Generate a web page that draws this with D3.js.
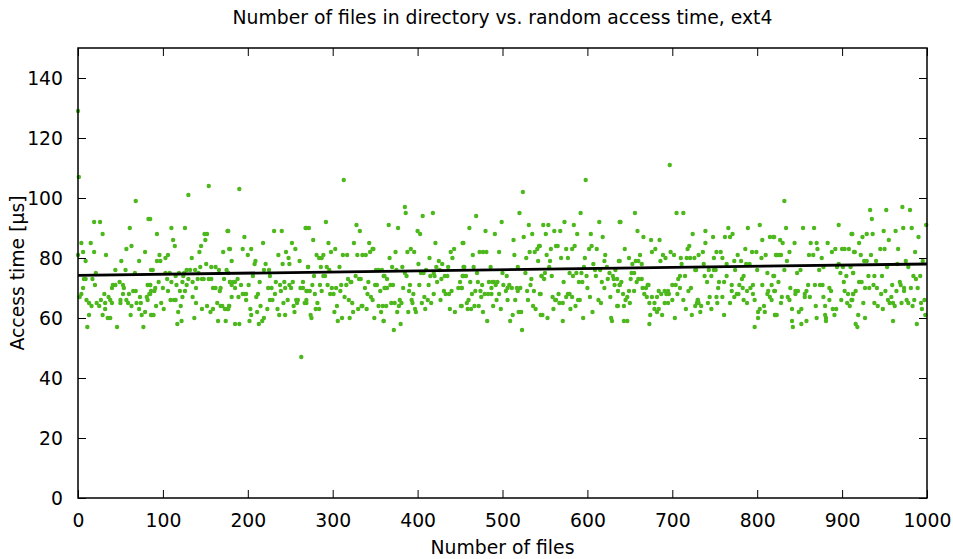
<!DOCTYPE html>
<html><head><meta charset="utf-8">
<script src="https://cdn.jsdelivr.net/npm/d3@7"></script>
<style>
html,body{margin:0;padding:0;background:#fff;}
text{font-family:"DejaVu Sans",sans-serif;fill:#000;}
</style></head>
<body><svg id="chart" width="953" height="559"></svg>
<script>
// ---- data ----
const chartTitle = "Number of files in directory vs. random access time, ext4";
const xLabel = "Number of files";
const yLabel = "Access time [µs]";
const xTicks = [0,100,200,300,400,500,600,700,800,900,1000];
const yTicks = [0,20,40,60,80,100,120,140];
const xDomain = [0,1000];
const yDomain = [0,150];
// fitted trend line (end points)
const fitX = [0, 1000];
const fitY = [74.2, 78.0];
// [number of files, access time µs]
const samples = [
[0,129],[1,107],[68,99],[19,92],[26,92],[83,93],[61,90],[29,88],[4,85],[15,85],[63,84],[57,83],[6,82],[19,82],[79,82],[0,81],[33,81],[9,79],[51,79],[72,79],[44,76],[56,76],[86,76],[21,75],[67,75],[7,73],[9,73],[17,73],[49,72],[20,71],[41,71],[44,71],[53,71],[82,71],[85,71],[6,70],[40,70],[54,70],[65,69],[68,69],[4,68],[31,68],[53,68],[60,68],[85,68],[2,67],[36,67],[73,67],[81,67],[10,66],[27,66],[38,66],[50,66],[57,66],[82,66],[13,65],[22,65],[32,65],[40,65],[50,65],[59,65],[69,65],[74,65],[16,64],[25,64],[63,64],[32,63],[72,63],[79,62],[13,61],[29,61],[62,61],[75,61],[86,61],[35,60],[38,60],[11,57],[46,57],[77,57],
[154,104],[130,101],[85,93],[110,90],[126,90],[176,89],[93,88],[149,88],[152,88],[112,86],[150,86],[114,84],[145,84],[178,83],[143,82],[171,82],[96,81],[106,81],[103,80],[134,80],[93,79],[97,79],[151,78],[144,77],[157,77],[162,77],[88,76],[128,76],[132,76],[138,76],[166,76],[175,76],[103,75],[108,75],[119,75],[125,75],[142,75],[115,74],[124,74],[172,73],[105,73],[130,73],[141,73],[146,73],[148,73],[154,73],[157,73],[95,72],[110,72],[123,72],[135,72],[179,72],[85,71],[116,71],[128,71],[91,70],[100,70],[139,70],[159,70],[162,70],[168,70],[86,69],[90,69],[106,69],[120,69],[126,69],[167,69],[84,68],[135,67],[123,67],[109,66],[113,66],[115,66],[98,65],[139,65],[164,65],[92,64],[121,64],[152,64],[168,64],[170,64],[178,64],[101,63],[146,63],[159,63],[173,63],[176,63],[118,62],[156,62],[87,61],[89,61],[137,60],[122,59],[165,59],[174,59],[117,58],
[190,103],[177,89],[231,89],[240,89],[268,90],[196,87],[218,85],[252,85],[179,83],[194,83],[204,83],[256,83],[245,82],[236,81],[200,81],[248,80],[181,79],[209,79],[261,79],[208,78],[221,78],[241,78],[249,78],[271,77],[219,76],[225,76],[177,75],[206,74],[226,74],[188,73],[179,72],[183,72],[185,72],[214,72],[233,72],[243,72],[253,72],[265,72],[181,71],[192,71],[201,71],[238,71],[249,71],[185,70],[224,70],[228,70],[244,70],[251,70],[262,70],[265,70],[269,69],[239,69],[194,68],[196,68],[198,68],[212,68],[232,68],[181,67],[189,67],[210,67],[198,66],[226,66],[229,66],[247,66],[257,66],[259,66],[269,66],[242,65],[258,65],[267,65],[254,64],[215,64],[178,64],[177,63],[203,63],[223,63],[235,63],[211,62],[255,62],[204,61],[237,61],[244,61],[219,60],[202,59],[217,59],[185,58],[190,58],[213,58],[263,47],
[313,106],[269,90],[272,90],[292,92],[328,91],[332,89],[277,86],[295,85],[325,85],[343,85],[303,83],[347,83],[348,83],[298,82],[344,82],[281,81],[289,81],[312,81],[317,81],[329,81],[335,81],[339,81],[284,80],[287,80],[271,77],[286,77],[293,77],[308,77],[296,76],[351,76],[354,76],[358,76],[278,74],[289,74],[291,74],[327,74],[361,74],[318,73],[331,73],[333,73],[321,72],[322,72],[342,72],[276,71],[285,71],[294,71],[310,71],[316,71],[350,71],[352,71],[299,70],[304,70],[338,70],[362,70],[270,69],[273,69],[287,69],[309,69],[356,69],[279,68],[297,68],[301,68],[341,68],[314,67],[345,67],[319,66],[347,66],[269,65],[282,65],[323,65],[305,64],[334,64],[335,64],[354,64],[359,64],[280,63],[284,63],[330,63],[340,63],[302,62],[324,62],[357,62],[274,61],[275,60],[311,60],[320,60],[349,60],[306,59],[360,59],
[385,97],[386,95],[406,94],[418,95],[366,91],[377,90],[400,89],[403,88],[421,85],[453,85],[374,82],[388,82],[392,83],[396,82],[439,82],[443,83],[367,80],[414,80],[441,80],[425,79],[401,78],[429,78],[370,77],[382,77],[422,77],[436,77],[454,77],[375,76],[410,76],[426,76],[404,75],[407,75],[419,75],[385,75],[360,74],[387,74],[415,74],[420,74],[432,74],[435,74],[453,74],[364,73],[428,73],[423,72],[450,72],[368,71],[371,71],[391,71],[402,71],[413,71],[361,70],[364,70],[383,70],[448,70],[452,70],[390,69],[431,69],[440,69],[395,68],[419,68],[433,68],[437,68],[408,67],[379,66],[393,66],[412,66],[427,66],[369,65],[373,65],[381,65],[394,65],[405,65],[416,65],[363,64],[378,64],[451,64],[397,63],[409,63],[438,63],[376,62],[389,62],[398,62],[444,62],[360,59],[380,58],[372,56],
[524,102],[520,95],[469,94],[499,92],[461,90],[531,91],[480,89],[491,88],[525,87],[535,88],[454,85],[513,86],[543,84],[541,83],[538,82],[532,82],[473,82],[477,82],[481,82],[496,82],[465,81],[514,81],[528,80],[542,79],[455,77],[466,77],[486,77],[518,77],[470,75],[500,75],[527,75],[546,74],[454,74],[457,74],[505,74],[534,73],[462,72],[471,72],[484,72],[488,72],[490,72],[494,72],[476,71],[492,71],[501,71],[508,71],[533,71],[452,70],[487,70],[506,70],[511,70],[517,70],[521,70],[468,69],[474,69],[504,69],[518,69],[529,69],[537,69],[464,68],[479,68],[483,68],[487,68],[496,68],[545,68],[475,67],[460,66],[493,66],[506,66],[515,66],[530,66],[458,65],[452,64],[467,64],[472,64],[489,64],[536,64],[459,63],[463,63],[498,63],[539,63],[477,62],[519,62],[522,62],[512,61],[545,61],[482,59],[509,59],[523,56],
[598,106],[592,95],[573,92],[614,92],[638,92],[548,91],[554,91],[584,91],[561,89],[568,89],[551,88],[588,88],[604,88],[618,87],[544,84],[563,84],[565,84],[585,84],[605,84],[557,83],[575,83],[582,83],[602,83],[611,83],[552,81],[621,81],[569,80],[577,80],[597,80],[556,79],[620,79],[637,79],[607,78],[555,77],[596,77],[623,77],[609,76],[615,76],[633,76],[550,75],[579,75],[587,75],[593,75],[626,75],[546,74],[558,74],[583,74],[599,74],[610,74],[630,74],[549,73],[624,73],[631,73],[635,73],[572,72],[590,72],[594,72],[617,72],[632,71],[638,71],[600,70],[620,70],[636,69],[544,68],[566,68],[577,68],[579,68],[559,67],[575,67],[582,67],[603,67],[627,67],[562,66],[563,66],[589,66],[591,66],[613,66],[567,65],[571,65],[616,65],[586,64],[635,64],[560,63],[580,63],[606,62],[547,61],[553,60],[595,60],[628,60],[571,59],[629,59],
[697,111],[656,95],[705,95],[713,95],[639,92],[659,89],[724,88],[666,87],[675,86],[685,86],[720,84],[644,83],[680,83],[718,83],[676,82],[698,82],[662,81],[689,81],[702,81],[649,80],[692,80],[710,80],[717,80],[721,80],[726,80],[638,79],[657,79],[660,79],[686,79],[653,78],[664,78],[711,78],[727,76],[652,75],[655,75],[709,74],[715,74],[651,73],[660,73],[664,73],[707,73],[640,72],[658,72],[638,71],[671,71],[672,71],[700,71],[704,71],[665,70],[669,70],[709,70],[722,70],[649,69],[655,69],[684,69],[691,69],[695,69],[719,69],[642,68],[667,68],[687,68],[693,68],[696,68],[706,68],[647,67],[670,67],[676,67],[682,67],[645,66],[700,66],[713,66],[730,66],[650,65],[673,65],[679,65],[691,65],[695,65],[729,65],[636,64],[643,64],[727,64],[679,63],[684,63],[716,63],[682,62],[674,61],[688,61],[723,61],[703,60],[643,59],[647,59],[673,58],
[803,91],[766,90],[789,90],[739,89],[771,88],[748,87],[762,87],[768,87],[806,86],[815,87],[819,87],[739,85],[786,83],[736,82],[752,82],[757,82],[794,82],[799,82],[731,81],[777,81],[810,81],[822,81],[749,80],[759,80],[805,80],[773,79],[781,79],[737,78],[764,78],[787,78],[791,78],[728,76],[743,76],[749,76],[751,76],[774,76],[800,76],[812,75],[738,74],[746,74],[764,74],[784,74],[819,74],[782,73],[741,72],[755,72],[761,72],[770,71],[779,71],[795,71],[806,71],[817,71],[754,70],[783,70],[792,70],[770,69],[788,69],[813,69],[820,69],[776,68],[778,68],[795,68],[812,68],[773,67],[744,67],[752,67],[759,67],[815,67],[730,66],[784,66],[797,66],[817,66],[731,65],[742,65],[753,65],[768,65],[788,65],[734,64],[808,64],[746,63],[803,63],[733,62],[801,62],[809,62],[761,61],[821,61],[801,60],[797,57],
[832,99],[834,90],[854,90],[867,90],[896,91],[911,88],[820,87],[827,86],[830,85],[844,85],[863,85],[870,85],[883,85],[871,83],[892,83],[900,83],[903,83],[908,83],[838,82],[888,82],[914,82],[823,81],[826,81],[828,81],[861,81],[866,81],[876,80],[835,79],[896,78],[873,76],[878,77],[894,77],[901,77],[910,77],[832,76],[851,76],[847,75],[898,75],[913,75],[820,74],[905,74],[825,72],[902,72],[860,71],[868,71],[874,71],[877,71],[839,70],[885,70],[821,69],[845,69],[848,69],[858,69],[887,69],[903,69],[845,68],[856,68],[907,68],[913,68],[829,67],[836,67],[856,67],[862,67],[878,67],[838,66],[885,66],[899,66],[911,66],[828,65],[906,65],[869,64],[880,64],[909,64],[841,63],[852,63],[889,63],[893,63],[849,62],[821,61],[823,61],[880,61],[891,61],[870,60],[881,60],[841,59],[858,59],[881,59],[852,58],[842,57],
[971,97],[933,96],[952,96],[980,96],[935,93],[999,91],[972,90],[982,90],[949,89],[963,89],[912,88],[929,88],[936,88],[924,87],[990,87],[955,86],[920,85],[945,83],[950,83],[966,83],[915,82],[986,82],[922,81],[934,81],[926,79],[929,79],[940,79],[975,79],[995,79],[953,77],[978,77],[965,78],[913,75],[931,74],[938,74],[947,74],[984,74],[992,74],[987,73],[920,72],[923,72],[968,72],[937,71],[959,71],[969,71],[927,70],[932,70],[941,70],[973,70],[981,70],[989,70],[916,69],[951,69],[964,69],[973,69],[913,68],[946,68],[958,67],[912,66],[954,66],[976,66],[985,66],[997,66],[925,65],[938,65],[956,65],[960,65],[970,65],[978,65],[993,65],[942,64],[962,64],[983,64],[948,63],[994,63],[919,61],[998,61],[927,60],[960,59],[916,58],[988,58],[918,57]
];

// ---- drawing ----
const W = 953, H = 559;
const m = {left:78, right:26, top:48, bottom:61};
const svg = d3.select("#chart");
const x = d3.scaleLinear().domain(xDomain).range([m.left, W - m.right]);
const y = d3.scaleLinear().domain(yDomain).range([H - m.bottom, m.top]);
const FS = 18.8;

// points
svg.append("g").selectAll("circle").data(samples).join("circle")
  .attr("cx", d => x(d[0])).attr("cy", d => y(d[1]))
  .attr("r", 2.2).attr("fill", "#4cb81c");

// fit line
svg.append("line")
  .attr("x1", x(fitX[0])).attr("y1", y(fitY[0]))
  .attr("x2", x(fitX[1])).attr("y2", y(fitY[1]))
  .attr("stroke", "#000").attr("stroke-width", 2.8);

// axes (inward ticks, mirrored)
function styleAxis(g){
  g.select(".domain").remove();
  g.selectAll(".tick line").attr("stroke", "#000").attr("stroke-width", 1);
  g.selectAll("text").style("font-size", FS + "px").style("font-family", '"DejaVu Sans",sans-serif').attr("fill", "#000");
}
const gx = svg.append("g").attr("transform", `translate(0,${y(yDomain[0])})`)
  .call(d3.axisBottom(x).tickValues(xTicks).tickSize(-8).tickPadding(0).tickFormat(d3.format("d")));
styleAxis(gx);
gx.selectAll("text").attr("y", 29).attr("dy", null);

const gxt = svg.append("g").attr("transform", `translate(0,${y(yDomain[1])})`)
  .call(d3.axisTop(x).tickValues(xTicks).tickSize(-8).tickFormat(""));
styleAxis(gxt);

const gy = svg.append("g").attr("transform", `translate(${x(xDomain[0])},0)`)
  .call(d3.axisLeft(y).tickValues(yTicks).tickSize(-8).tickPadding(15).tickFormat(d3.format("d")));
styleAxis(gy);
gy.selectAll("text").attr("dy", "0.36em");

const gyr = svg.append("g").attr("transform", `translate(${x(xDomain[1])},0)`)
  .call(d3.axisRight(y).tickValues(yTicks).tickSize(-8).tickFormat(""));
styleAxis(gyr);

// border
svg.append("rect")
  .attr("x", x(xDomain[0])).attr("y", y(yDomain[1]))
  .attr("width", x(xDomain[1]) - x(xDomain[0]))
  .attr("height", y(yDomain[0]) - y(yDomain[1]))
  .attr("fill", "none").attr("stroke", "#000").attr("stroke-width", 1.5);

// titles
svg.append("text").attr("x", (x(xDomain[0]) + x(xDomain[1])) / 2).attr("y", 24)
  .attr("text-anchor", "middle").style("font-size", FS + "px").text(chartTitle);
svg.append("text").attr("x", (x(xDomain[0]) + x(xDomain[1])) / 2).attr("y", 554)
  .attr("text-anchor", "middle").style("font-size", FS + "px").text(xLabel);
svg.append("text").attr("transform", `translate(24,${(y(yDomain[0]) + y(yDomain[1])) / 2}) rotate(-90)`)
  .attr("text-anchor", "middle").style("font-size", FS + "px").text(yLabel);
</script>
</body></html>
